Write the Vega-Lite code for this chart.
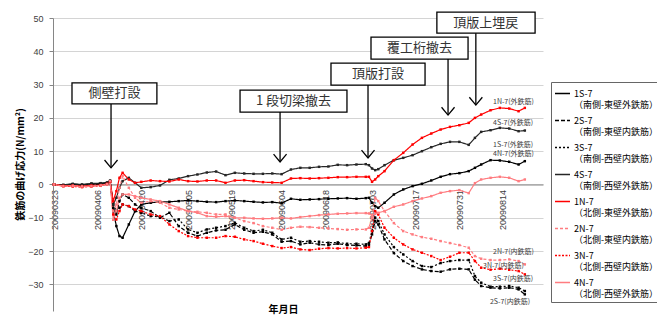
{
"$schema":"https://vega.github.io/schema/vega-lite/v6.json",
"width":490,"height":293,
"autosize":"none",
"padding":{"left":53,"top":18,"right":114,"bottom":13},
"background":"white",
"config":{"view":{"stroke":null}},
"resolve":{"axis":{"x":"independent","y":"independent"}},
"datasets":{
"series":[
{"t":"2009-03-23","s":"1S-7","v":0},{"t":"2009-03-26","s":"1S-7","v":-0.2},{"t":"2009-03-29","s":"1S-7","v":0.1},{"t":"2009-04-01","s":"1S-7","v":-0.1},{"t":"2009-04-04","s":"1S-7","v":0.2},{"t":"2009-04-07","s":"1S-7","v":0.3},{"t":"2009-04-09","s":"1S-7","v":0.5},{"t":"2009-04-10","s":"1S-7","v":1.0},{"t":"2009-04-11","s":"1S-7","v":-8},{"t":"2009-04-12","s":"1S-7","v":-12.5},{"t":"2009-04-13","s":"1S-7","v":-15.5},{"t":"2009-04-14","s":"1S-7","v":-16},{"t":"2009-04-16","s":"1S-7","v":-12},{"t":"2009-04-18","s":"1S-7","v":-8},{"t":"2009-04-20","s":"1S-7","v":-6},{"t":"2009-04-23","s":"1S-7","v":-5.5},{"t":"2009-04-26","s":"1S-7","v":-5.2},{"t":"2009-04-29","s":"1S-7","v":-5.2},{"t":"2009-05-02","s":"1S-7","v":-5},{"t":"2009-05-05","s":"1S-7","v":-4.8},{"t":"2009-05-08","s":"1S-7","v":-5},{"t":"2009-05-11","s":"1S-7","v":-5.2},{"t":"2009-05-14","s":"1S-7","v":-5.3},{"t":"2009-05-17","s":"1S-7","v":-5},{"t":"2009-05-20","s":"1S-7","v":-4.8},{"t":"2009-05-23","s":"1S-7","v":-5},{"t":"2009-05-26","s":"1S-7","v":-5.2},{"t":"2009-05-29","s":"1S-7","v":-5.4},{"t":"2009-06-01","s":"1S-7","v":-5.3},{"t":"2009-06-04","s":"1S-7","v":-5.6},{"t":"2009-06-07","s":"1S-7","v":-4.3},{"t":"2009-06-10","s":"1S-7","v":-4.6},{"t":"2009-06-13","s":"1S-7","v":-4.5},{"t":"2009-06-16","s":"1S-7","v":-4.4},{"t":"2009-06-19","s":"1S-7","v":-4.3},{"t":"2009-06-22","s":"1S-7","v":-4.2},{"t":"2009-06-25","s":"1S-7","v":-4.1},{"t":"2009-06-28","s":"1S-7","v":-4.3},{"t":"2009-07-01","s":"1S-7","v":-4.1},{"t":"2009-07-02","s":"1S-7","v":-4},{"t":"2009-07-03","s":"1S-7","v":-5.5},{"t":"2009-07-04","s":"1S-7","v":-6.5},{"t":"2009-07-05","s":"1S-7","v":-7},{"t":"2009-07-07","s":"1S-7","v":-5.5},{"t":"2009-07-10","s":"1S-7","v":-3},{"t":"2009-07-13","s":"1S-7","v":-1.5},{"t":"2009-07-16","s":"1S-7","v":-0.5},{"t":"2009-07-19","s":"1S-7","v":0.2},{"t":"2009-07-22","s":"1S-7","v":1.2},{"t":"2009-07-25","s":"1S-7","v":2.3},{"t":"2009-07-28","s":"1S-7","v":3.1},{"t":"2009-07-31","s":"1S-7","v":3.4},{"t":"2009-08-03","s":"1S-7","v":4},{"t":"2009-08-05","s":"1S-7","v":5},{"t":"2009-08-07","s":"1S-7","v":6},{"t":"2009-08-10","s":"1S-7","v":7.3},{"t":"2009-08-13","s":"1S-7","v":7.2},{"t":"2009-08-16","s":"1S-7","v":6.8},{"t":"2009-08-19","s":"1S-7","v":6},{"t":"2009-08-21","s":"1S-7","v":7},
{"t":"2009-03-23","s":"2S-7","v":0},{"t":"2009-03-26","s":"2S-7","v":-0.3},{"t":"2009-03-29","s":"2S-7","v":-0.1},{"t":"2009-04-01","s":"2S-7","v":-0.2},{"t":"2009-04-04","s":"2S-7","v":0},{"t":"2009-04-07","s":"2S-7","v":0.1},{"t":"2009-04-09","s":"2S-7","v":0.3},{"t":"2009-04-10","s":"2S-7","v":0.8},{"t":"2009-04-11","s":"2S-7","v":-7},{"t":"2009-04-12","s":"2S-7","v":-9},{"t":"2009-04-13","s":"2S-7","v":-5},{"t":"2009-04-14","s":"2S-7","v":-3},{"t":"2009-04-16","s":"2S-7","v":-4},{"t":"2009-04-18","s":"2S-7","v":-6},{"t":"2009-04-20","s":"2S-7","v":-7},{"t":"2009-04-23","s":"2S-7","v":-8},{"t":"2009-04-26","s":"2S-7","v":-10},{"t":"2009-04-29","s":"2S-7","v":-8.5},{"t":"2009-05-02","s":"2S-7","v":-12.5},{"t":"2009-05-05","s":"2S-7","v":-14.5},{"t":"2009-05-08","s":"2S-7","v":-15.5},{"t":"2009-05-11","s":"2S-7","v":-14.5},{"t":"2009-05-14","s":"2S-7","v":-13.8},{"t":"2009-05-17","s":"2S-7","v":-13.6},{"t":"2009-05-20","s":"2S-7","v":-12},{"t":"2009-05-23","s":"2S-7","v":-13.6},{"t":"2009-05-26","s":"2S-7","v":-14.5},{"t":"2009-05-29","s":"2S-7","v":-14.2},{"t":"2009-06-01","s":"2S-7","v":-15},{"t":"2009-06-04","s":"2S-7","v":-17.2},{"t":"2009-06-07","s":"2S-7","v":-17},{"t":"2009-06-10","s":"2S-7","v":-18},{"t":"2009-06-13","s":"2S-7","v":-17.5},{"t":"2009-06-16","s":"2S-7","v":-18},{"t":"2009-06-19","s":"2S-7","v":-18.2},{"t":"2009-06-22","s":"2S-7","v":-17.8},{"t":"2009-06-25","s":"2S-7","v":-18.2},{"t":"2009-06-28","s":"2S-7","v":-18.3},{"t":"2009-07-01","s":"2S-7","v":-18.5},{"t":"2009-07-02","s":"2S-7","v":-18.2},{"t":"2009-07-03","s":"2S-7","v":-15},{"t":"2009-07-04","s":"2S-7","v":-11},{"t":"2009-07-05","s":"2S-7","v":-12},{"t":"2009-07-07","s":"2S-7","v":-16.5},{"t":"2009-07-10","s":"2S-7","v":-20.6},{"t":"2009-07-13","s":"2S-7","v":-23},{"t":"2009-07-16","s":"2S-7","v":-24.5},{"t":"2009-07-19","s":"2S-7","v":-25.5},{"t":"2009-07-22","s":"2S-7","v":-26},{"t":"2009-07-25","s":"2S-7","v":-26.2},{"t":"2009-07-28","s":"2S-7","v":-25.5},{"t":"2009-07-31","s":"2S-7","v":-25.3},{"t":"2009-08-03","s":"2S-7","v":-25.5},{"t":"2009-08-05","s":"2S-7","v":-28.6},{"t":"2009-08-07","s":"2S-7","v":-30.5},{"t":"2009-08-10","s":"2S-7","v":-31},{"t":"2009-08-13","s":"2S-7","v":-31.2},{"t":"2009-08-16","s":"2S-7","v":-31},{"t":"2009-08-19","s":"2S-7","v":-31.5},{"t":"2009-08-21","s":"2S-7","v":-33},
{"t":"2009-03-23","s":"3S-7","v":0},{"t":"2009-03-26","s":"3S-7","v":-0.2},{"t":"2009-03-29","s":"3S-7","v":0},{"t":"2009-04-01","s":"3S-7","v":-0.3},{"t":"2009-04-04","s":"3S-7","v":0.1},{"t":"2009-04-07","s":"3S-7","v":0.2},{"t":"2009-04-09","s":"3S-7","v":0.4},{"t":"2009-04-10","s":"3S-7","v":1.0},{"t":"2009-04-11","s":"3S-7","v":-6},{"t":"2009-04-12","s":"3S-7","v":-8},{"t":"2009-04-13","s":"3S-7","v":-7},{"t":"2009-04-14","s":"3S-7","v":-6},{"t":"2009-04-16","s":"3S-7","v":-6.5},{"t":"2009-04-18","s":"3S-7","v":-8},{"t":"2009-04-20","s":"3S-7","v":-8.5},{"t":"2009-04-23","s":"3S-7","v":-9.5},{"t":"2009-04-26","s":"3S-7","v":-9.7},{"t":"2009-04-29","s":"3S-7","v":-11},{"t":"2009-05-02","s":"3S-7","v":-10.5},{"t":"2009-05-05","s":"3S-7","v":-13.5},{"t":"2009-05-08","s":"3S-7","v":-14.5},{"t":"2009-05-11","s":"3S-7","v":-13.5},{"t":"2009-05-14","s":"3S-7","v":-13},{"t":"2009-05-17","s":"3S-7","v":-12.5},{"t":"2009-05-20","s":"3S-7","v":-11.5},{"t":"2009-05-23","s":"3S-7","v":-13},{"t":"2009-05-26","s":"3S-7","v":-14},{"t":"2009-05-29","s":"3S-7","v":-13.6},{"t":"2009-06-01","s":"3S-7","v":-14.5},{"t":"2009-06-04","s":"3S-7","v":-16.5},{"t":"2009-06-07","s":"3S-7","v":-16},{"t":"2009-06-10","s":"3S-7","v":-17.2},{"t":"2009-06-13","s":"3S-7","v":-17},{"t":"2009-06-16","s":"3S-7","v":-17.2},{"t":"2009-06-19","s":"3S-7","v":-17.5},{"t":"2009-06-22","s":"3S-7","v":-17.4},{"t":"2009-06-25","s":"3S-7","v":-17.8},{"t":"2009-06-28","s":"3S-7","v":-17.8},{"t":"2009-07-01","s":"3S-7","v":-18},{"t":"2009-07-02","s":"3S-7","v":-17.6},{"t":"2009-07-03","s":"3S-7","v":-14},{"t":"2009-07-04","s":"3S-7","v":-10},{"t":"2009-07-05","s":"3S-7","v":-11},{"t":"2009-07-07","s":"3S-7","v":-15},{"t":"2009-07-10","s":"3S-7","v":-18.8},{"t":"2009-07-13","s":"3S-7","v":-21},{"t":"2009-07-16","s":"3S-7","v":-23},{"t":"2009-07-19","s":"3S-7","v":-24.5},{"t":"2009-07-22","s":"3S-7","v":-24.8},{"t":"2009-07-25","s":"3S-7","v":-23.6},{"t":"2009-07-28","s":"3S-7","v":-23},{"t":"2009-07-31","s":"3S-7","v":-22.7},{"t":"2009-08-03","s":"3S-7","v":-22.7},{"t":"2009-08-05","s":"3S-7","v":-27.5},{"t":"2009-08-07","s":"3S-7","v":-29.5},{"t":"2009-08-10","s":"3S-7","v":-30.7},{"t":"2009-08-13","s":"3S-7","v":-30.7},{"t":"2009-08-16","s":"3S-7","v":-30.5},{"t":"2009-08-19","s":"3S-7","v":-31},{"t":"2009-08-21","s":"3S-7","v":-32},
{"t":"2009-03-23","s":"4S-7","v":0},{"t":"2009-03-26","s":"4S-7","v":-0.1},{"t":"2009-03-29","s":"4S-7","v":0.2},{"t":"2009-04-01","s":"4S-7","v":0},{"t":"2009-04-04","s":"4S-7","v":0.3},{"t":"2009-04-07","s":"4S-7","v":0.4},{"t":"2009-04-09","s":"4S-7","v":0.6},{"t":"2009-04-10","s":"4S-7","v":1.2},{"t":"2009-04-11","s":"4S-7","v":-6},{"t":"2009-04-12","s":"4S-7","v":-4},{"t":"2009-04-13","s":"4S-7","v":-1},{"t":"2009-04-14","s":"4S-7","v":1},{"t":"2009-04-16","s":"4S-7","v":2},{"t":"2009-04-18","s":"4S-7","v":0.5},{"t":"2009-04-20","s":"4S-7","v":-1},{"t":"2009-04-23","s":"4S-7","v":-0.8},{"t":"2009-04-26","s":"4S-7","v":-0.3},{"t":"2009-04-29","s":"4S-7","v":1.4},{"t":"2009-05-02","s":"4S-7","v":1.8},{"t":"2009-05-05","s":"4S-7","v":2.5},{"t":"2009-05-08","s":"4S-7","v":3},{"t":"2009-05-11","s":"4S-7","v":3.6},{"t":"2009-05-14","s":"4S-7","v":3.9},{"t":"2009-05-17","s":"4S-7","v":2.8},{"t":"2009-05-20","s":"4S-7","v":3.5},{"t":"2009-05-23","s":"4S-7","v":3.3},{"t":"2009-05-26","s":"4S-7","v":3.2},{"t":"2009-05-29","s":"4S-7","v":3.2},{"t":"2009-06-01","s":"4S-7","v":3.3},{"t":"2009-06-04","s":"4S-7","v":3.1},{"t":"2009-06-07","s":"4S-7","v":4.5},{"t":"2009-06-10","s":"4S-7","v":5},{"t":"2009-06-13","s":"4S-7","v":5},{"t":"2009-06-16","s":"4S-7","v":5.3},{"t":"2009-06-19","s":"4S-7","v":5.4},{"t":"2009-06-22","s":"4S-7","v":5.9},{"t":"2009-06-25","s":"4S-7","v":5.8},{"t":"2009-06-28","s":"4S-7","v":6},{"t":"2009-07-01","s":"4S-7","v":6.1},{"t":"2009-07-02","s":"4S-7","v":5.8},{"t":"2009-07-03","s":"4S-7","v":4.8},{"t":"2009-07-04","s":"4S-7","v":4.3},{"t":"2009-07-05","s":"4S-7","v":4.6},{"t":"2009-07-07","s":"4S-7","v":5.8},{"t":"2009-07-10","s":"4S-7","v":7.3},{"t":"2009-07-13","s":"4S-7","v":8},{"t":"2009-07-16","s":"4S-7","v":8.8},{"t":"2009-07-19","s":"4S-7","v":10},{"t":"2009-07-22","s":"4S-7","v":11.2},{"t":"2009-07-25","s":"4S-7","v":12.2},{"t":"2009-07-28","s":"4S-7","v":12.8},{"t":"2009-07-31","s":"4S-7","v":12.8},{"t":"2009-08-03","s":"4S-7","v":11.9},{"t":"2009-08-05","s":"4S-7","v":14},{"t":"2009-08-07","s":"4S-7","v":15.8},{"t":"2009-08-10","s":"4S-7","v":16.3},{"t":"2009-08-13","s":"4S-7","v":17},{"t":"2009-08-16","s":"4S-7","v":16.8},{"t":"2009-08-19","s":"4S-7","v":16},{"t":"2009-08-21","s":"4S-7","v":16.2},
{"t":"2009-03-23","s":"1N-7","v":0},{"t":"2009-03-26","s":"1N-7","v":-0.4},{"t":"2009-03-29","s":"1N-7","v":-0.3},{"t":"2009-04-01","s":"1N-7","v":-0.5},{"t":"2009-04-04","s":"1N-7","v":-0.3},{"t":"2009-04-07","s":"1N-7","v":-0.2},{"t":"2009-04-09","s":"1N-7","v":0.2},{"t":"2009-04-10","s":"1N-7","v":0.9},{"t":"2009-04-11","s":"1N-7","v":-5},{"t":"2009-04-12","s":"1N-7","v":-2},{"t":"2009-04-13","s":"1N-7","v":2},{"t":"2009-04-14","s":"1N-7","v":3.5},{"t":"2009-04-16","s":"1N-7","v":1.5},{"t":"2009-04-18","s":"1N-7","v":0.5},{"t":"2009-04-20","s":"1N-7","v":0.8},{"t":"2009-04-23","s":"1N-7","v":1.2},{"t":"2009-04-26","s":"1N-7","v":1},{"t":"2009-04-29","s":"1N-7","v":0.9},{"t":"2009-05-02","s":"1N-7","v":1.5},{"t":"2009-05-05","s":"1N-7","v":1},{"t":"2009-05-08","s":"1N-7","v":0.9},{"t":"2009-05-11","s":"1N-7","v":1.2},{"t":"2009-05-14","s":"1N-7","v":1.2},{"t":"2009-05-17","s":"1N-7","v":0.5},{"t":"2009-05-20","s":"1N-7","v":1.2},{"t":"2009-05-23","s":"1N-7","v":1.3},{"t":"2009-05-26","s":"1N-7","v":1},{"t":"2009-05-29","s":"1N-7","v":0.7},{"t":"2009-06-01","s":"1N-7","v":0.6},{"t":"2009-06-04","s":"1N-7","v":0.5},{"t":"2009-06-07","s":"1N-7","v":1.8},{"t":"2009-06-10","s":"1N-7","v":1.9},{"t":"2009-06-13","s":"1N-7","v":1.8},{"t":"2009-06-16","s":"1N-7","v":1.9},{"t":"2009-06-19","s":"1N-7","v":2},{"t":"2009-06-22","s":"1N-7","v":2.2},{"t":"2009-06-25","s":"1N-7","v":2.2},{"t":"2009-06-28","s":"1N-7","v":2.3},{"t":"2009-07-01","s":"1N-7","v":2.3},{"t":"2009-07-02","s":"1N-7","v":2.3},{"t":"2009-07-03","s":"1N-7","v":0.8},{"t":"2009-07-04","s":"1N-7","v":1.5},{"t":"2009-07-05","s":"1N-7","v":2.5},{"t":"2009-07-07","s":"1N-7","v":4},{"t":"2009-07-10","s":"1N-7","v":7.3},{"t":"2009-07-13","s":"1N-7","v":9.5},{"t":"2009-07-16","s":"1N-7","v":12},{"t":"2009-07-19","s":"1N-7","v":14},{"t":"2009-07-22","s":"1N-7","v":15.3},{"t":"2009-07-25","s":"1N-7","v":16.5},{"t":"2009-07-28","s":"1N-7","v":17.3},{"t":"2009-07-31","s":"1N-7","v":17.8},{"t":"2009-08-03","s":"1N-7","v":18.5},{"t":"2009-08-05","s":"1N-7","v":20},{"t":"2009-08-07","s":"1N-7","v":21},{"t":"2009-08-10","s":"1N-7","v":22.3},{"t":"2009-08-13","s":"1N-7","v":23},{"t":"2009-08-16","s":"1N-7","v":22.8},{"t":"2009-08-19","s":"1N-7","v":22},{"t":"2009-08-21","s":"1N-7","v":23},
{"t":"2009-03-23","s":"2N-7","v":0},{"t":"2009-03-26","s":"2N-7","v":-0.6},{"t":"2009-03-29","s":"2N-7","v":-0.5},{"t":"2009-04-01","s":"2N-7","v":-0.7},{"t":"2009-04-04","s":"2N-7","v":-0.5},{"t":"2009-04-07","s":"2N-7","v":-0.3},{"t":"2009-04-09","s":"2N-7","v":0},{"t":"2009-04-10","s":"2N-7","v":0.7},{"t":"2009-04-11","s":"2N-7","v":-8},{"t":"2009-04-12","s":"2N-7","v":-6},{"t":"2009-04-13","s":"2N-7","v":-1},{"t":"2009-04-14","s":"2N-7","v":2.5},{"t":"2009-04-16","s":"2N-7","v":-1},{"t":"2009-04-18","s":"2N-7","v":-4},{"t":"2009-04-20","s":"2N-7","v":-5.5},{"t":"2009-04-23","s":"2N-7","v":-5},{"t":"2009-04-26","s":"2N-7","v":-5.5},{"t":"2009-04-29","s":"2N-7","v":-7},{"t":"2009-05-02","s":"2N-7","v":-7.5},{"t":"2009-05-05","s":"2N-7","v":-8},{"t":"2009-05-08","s":"2N-7","v":-8.2},{"t":"2009-05-11","s":"2N-7","v":-8.5},{"t":"2009-05-14","s":"2N-7","v":-9},{"t":"2009-05-17","s":"2N-7","v":-9},{"t":"2009-05-20","s":"2N-7","v":-10},{"t":"2009-05-23","s":"2N-7","v":-11},{"t":"2009-05-26","s":"2N-7","v":-11.6},{"t":"2009-05-29","s":"2N-7","v":-12.5},{"t":"2009-06-01","s":"2N-7","v":-13},{"t":"2009-06-04","s":"2N-7","v":-13.6},{"t":"2009-06-07","s":"2N-7","v":-13},{"t":"2009-06-10","s":"2N-7","v":-12.7},{"t":"2009-06-13","s":"2N-7","v":-12.8},{"t":"2009-06-16","s":"2N-7","v":-13},{"t":"2009-06-19","s":"2N-7","v":-13.2},{"t":"2009-06-22","s":"2N-7","v":-13.4},{"t":"2009-06-25","s":"2N-7","v":-13.6},{"t":"2009-06-28","s":"2N-7","v":-13.5},{"t":"2009-07-01","s":"2N-7","v":-13.5},{"t":"2009-07-02","s":"2N-7","v":-13},{"t":"2009-07-03","s":"2N-7","v":-10},{"t":"2009-07-04","s":"2N-7","v":-4},{"t":"2009-07-05","s":"2N-7","v":-5},{"t":"2009-07-07","s":"2N-7","v":-8},{"t":"2009-07-10","s":"2N-7","v":-11.6},{"t":"2009-07-13","s":"2N-7","v":-14},{"t":"2009-07-16","s":"2N-7","v":-15},{"t":"2009-07-19","s":"2N-7","v":-15.8},{"t":"2009-07-22","s":"2N-7","v":-16.3},{"t":"2009-07-25","s":"2N-7","v":-17},{"t":"2009-07-28","s":"2N-7","v":-17.6},{"t":"2009-07-31","s":"2N-7","v":-18.2},{"t":"2009-08-03","s":"2N-7","v":-19},{"t":"2009-08-05","s":"2N-7","v":-21.5},{"t":"2009-08-07","s":"2N-7","v":-22.3},{"t":"2009-08-10","s":"2N-7","v":-22.7},{"t":"2009-08-13","s":"2N-7","v":-22.7},{"t":"2009-08-16","s":"2N-7","v":-22.5},{"t":"2009-08-19","s":"2N-7","v":-23},{"t":"2009-08-21","s":"2N-7","v":-24},
{"t":"2009-03-23","s":"3N-7","v":0},{"t":"2009-03-26","s":"3N-7","v":-0.5},{"t":"2009-03-29","s":"3N-7","v":-0.6},{"t":"2009-04-01","s":"3N-7","v":-0.8},{"t":"2009-04-04","s":"3N-7","v":-0.6},{"t":"2009-04-07","s":"3N-7","v":-0.4},{"t":"2009-04-09","s":"3N-7","v":0.1},{"t":"2009-04-10","s":"3N-7","v":0.8},{"t":"2009-04-11","s":"3N-7","v":-9},{"t":"2009-04-12","s":"3N-7","v":-10.5},{"t":"2009-04-13","s":"3N-7","v":-8},{"t":"2009-04-14","s":"3N-7","v":-6},{"t":"2009-04-16","s":"3N-7","v":-6.5},{"t":"2009-04-18","s":"3N-7","v":-7.5},{"t":"2009-04-20","s":"3N-7","v":-8},{"t":"2009-04-23","s":"3N-7","v":-9},{"t":"2009-04-26","s":"3N-7","v":-9.5},{"t":"2009-04-29","s":"3N-7","v":-12},{"t":"2009-05-02","s":"3N-7","v":-14},{"t":"2009-05-05","s":"3N-7","v":-15.5},{"t":"2009-05-08","s":"3N-7","v":-16},{"t":"2009-05-11","s":"3N-7","v":-16},{"t":"2009-05-14","s":"3N-7","v":-16},{"t":"2009-05-17","s":"3N-7","v":-15.5},{"t":"2009-05-20","s":"3N-7","v":-15.7},{"t":"2009-05-23","s":"3N-7","v":-16.5},{"t":"2009-05-26","s":"3N-7","v":-17},{"t":"2009-05-29","s":"3N-7","v":-17.8},{"t":"2009-06-01","s":"3N-7","v":-18.5},{"t":"2009-06-04","s":"3N-7","v":-19.1},{"t":"2009-06-07","s":"3N-7","v":-18.8},{"t":"2009-06-10","s":"3N-7","v":-19.5},{"t":"2009-06-13","s":"3N-7","v":-19.7},{"t":"2009-06-16","s":"3N-7","v":-19.3},{"t":"2009-06-19","s":"3N-7","v":-19.1},{"t":"2009-06-22","s":"3N-7","v":-19.2},{"t":"2009-06-25","s":"3N-7","v":-19.1},{"t":"2009-06-28","s":"3N-7","v":-19.2},{"t":"2009-07-01","s":"3N-7","v":-19},{"t":"2009-07-02","s":"3N-7","v":-18.8},{"t":"2009-07-03","s":"3N-7","v":-14},{"t":"2009-07-04","s":"3N-7","v":-8},{"t":"2009-07-05","s":"3N-7","v":-9},{"t":"2009-07-07","s":"3N-7","v":-13},{"t":"2009-07-10","s":"3N-7","v":-16},{"t":"2009-07-13","s":"3N-7","v":-18},{"t":"2009-07-16","s":"3N-7","v":-19.5},{"t":"2009-07-19","s":"3N-7","v":-20.5},{"t":"2009-07-22","s":"3N-7","v":-21.5},{"t":"2009-07-25","s":"3N-7","v":-22.7},{"t":"2009-07-28","s":"3N-7","v":-21.7},{"t":"2009-07-31","s":"3N-7","v":-20.5},{"t":"2009-08-03","s":"3N-7","v":-20.5},{"t":"2009-08-05","s":"3N-7","v":-23},{"t":"2009-08-07","s":"3N-7","v":-25},{"t":"2009-08-10","s":"3N-7","v":-25.6},{"t":"2009-08-13","s":"3N-7","v":-25.3},{"t":"2009-08-16","s":"3N-7","v":-25.6},{"t":"2009-08-19","s":"3N-7","v":-26},{"t":"2009-08-21","s":"3N-7","v":-27},
{"t":"2009-03-23","s":"4N-7","v":0},{"t":"2009-03-26","s":"4N-7","v":-0.5},{"t":"2009-03-29","s":"4N-7","v":-0.4},{"t":"2009-04-01","s":"4N-7","v":-0.6},{"t":"2009-04-04","s":"4N-7","v":-0.5},{"t":"2009-04-07","s":"4N-7","v":-0.3},{"t":"2009-04-09","s":"4N-7","v":0.1},{"t":"2009-04-10","s":"4N-7","v":1.0},{"t":"2009-04-11","s":"4N-7","v":-10.6},{"t":"2009-04-12","s":"4N-7","v":-8},{"t":"2009-04-13","s":"4N-7","v":-4},{"t":"2009-04-14","s":"4N-7","v":-3},{"t":"2009-04-16","s":"4N-7","v":-3},{"t":"2009-04-18","s":"4N-7","v":-3.5},{"t":"2009-04-20","s":"4N-7","v":-4},{"t":"2009-04-23","s":"4N-7","v":-4.5},{"t":"2009-04-26","s":"4N-7","v":-5},{"t":"2009-04-29","s":"4N-7","v":-6},{"t":"2009-05-02","s":"4N-7","v":-7},{"t":"2009-05-05","s":"4N-7","v":-8},{"t":"2009-05-08","s":"4N-7","v":-8.5},{"t":"2009-05-11","s":"4N-7","v":-9.5},{"t":"2009-05-14","s":"4N-7","v":-9.7},{"t":"2009-05-17","s":"4N-7","v":-9.5},{"t":"2009-05-20","s":"4N-7","v":-10},{"t":"2009-05-23","s":"4N-7","v":-10},{"t":"2009-05-26","s":"4N-7","v":-10.2},{"t":"2009-05-29","s":"4N-7","v":-10.3},{"t":"2009-06-01","s":"4N-7","v":-10.2},{"t":"2009-06-04","s":"4N-7","v":-10},{"t":"2009-06-07","s":"4N-7","v":-10.2},{"t":"2009-06-10","s":"4N-7","v":-9.8},{"t":"2009-06-13","s":"4N-7","v":-9.5},{"t":"2009-06-16","s":"4N-7","v":-9.2},{"t":"2009-06-19","s":"4N-7","v":-9},{"t":"2009-06-22","s":"4N-7","v":-8.8},{"t":"2009-06-25","s":"4N-7","v":-8.7},{"t":"2009-06-28","s":"4N-7","v":-8.6},{"t":"2009-07-01","s":"4N-7","v":-8.6},{"t":"2009-07-02","s":"4N-7","v":-8.7},{"t":"2009-07-03","s":"4N-7","v":-9.2},{"t":"2009-07-04","s":"4N-7","v":-8.8},{"t":"2009-07-05","s":"4N-7","v":-8.5},{"t":"2009-07-07","s":"4N-7","v":-8},{"t":"2009-07-10","s":"4N-7","v":-6.7},{"t":"2009-07-13","s":"4N-7","v":-6},{"t":"2009-07-16","s":"4N-7","v":-5},{"t":"2009-07-19","s":"4N-7","v":-4.2},{"t":"2009-07-22","s":"4N-7","v":-3.5},{"t":"2009-07-25","s":"4N-7","v":-2.5},{"t":"2009-07-28","s":"4N-7","v":-2},{"t":"2009-07-31","s":"4N-7","v":-1.7},{"t":"2009-08-03","s":"4N-7","v":-2.6},{"t":"2009-08-05","s":"4N-7","v":0.4},{"t":"2009-08-07","s":"4N-7","v":1.5},{"t":"2009-08-10","s":"4N-7","v":2},{"t":"2009-08-13","s":"4N-7","v":2.3},{"t":"2009-08-16","s":"4N-7","v":2},{"t":"2009-08-19","s":"4N-7","v":1},{"t":"2009-08-21","s":"4N-7","v":1.5}
],
"ann":[
{"label":"側壁打設","x1":"2009-03-28T18:30:00Z","x2":"2009-04-25T00:00:00Z","xm":"2009-04-11T10:00:00Z","y1":30.5,"y2":24.2,"ym":27.35,"xa":"2009-04-10T07:00:00Z","tip":5.0},
{"label":"1 段切梁撤去","x1":"2009-05-21T16:00:00Z","x2":"2009-06-24T23:00:00Z","xm":"2009-06-07T19:00:00Z","y1":28.35,"y2":21.75,"ym":25.05,"xa":"2009-06-03T12:00:00Z","tip":6.75},
{"label":"頂版打設","x1":"2009-06-19T20:00:00Z","x2":"2009-07-20T00:00:00Z","xm":"2009-07-04T22:00:00Z","y1":36.45,"y2":29.85,"ym":33.15,"xa":"2009-07-01T17:00:00Z","tip":7.95},
{"label":"覆工桁撤去","x1":"2009-07-02T16:00:00Z","x2":"2009-08-02T19:00:00Z","xm":"2009-07-18T05:00:00Z","y1":44.25,"y2":37.65,"ym":40.95,"xa":"2009-07-27T09:00:00Z","tip":20.85},
{"label":"頂版上埋戻","x1":"2009-07-23T19:00:00Z","x2":"2009-08-24T07:00:00Z","xm":"2009-08-08T12:00:00Z","y1":51.75,"y2":45.45,"ym":48.6,"xa":"2009-08-05T07:00:00Z","tip":23.85}
],
"endlab":[
{"t":"2009-08-10T19:00:00Z","v":24.8,"text":"1N-7(外鉄筋)"},
{"t":"2009-08-10T19:00:00Z","v":18.4,"text":"4S-7(外鉄筋)"},
{"t":"2009-08-10T19:00:00Z","v":11.9,"text":"1S-7(外鉄筋)"},
{"t":"2009-08-10T19:00:00Z","v":9.2,"text":"4N-7(外鉄筋)"},
{"t":"2009-08-10T19:00:00Z","v":-20.3,"text":"2N-7(内鉄筋)"},
{"t":"2009-08-07T14:00:00Z","v":-24.5,"text":"3N-7(内鉄筋)"},
{"t":"2009-08-10T19:00:00Z","v":-28.4,"text":"3S-7(内鉄筋)"},
{"t":"2009-08-09T19:00:00Z","v":-35.3,"text":"2S-7(内鉄筋)"}
]
},
"layer":[
{"data":{"name":"series"},
 "mark":{"type":"line","strokeWidth":1.2,"point":{"shape":"square","size":6,"filled":true}},
 "encoding":{
  "x":{"field":"t","type":"temporal",
   "scale":{"type":"utc","domain":[{"year":2009,"month":3,"date":22,"hours":16,"minutes":18,"utc":true},{"year":2009,"month":8,"date":26,"hours":19,"minutes":54,"utc":true}]},
   "axis":{"title":"年月日","titleFont":"Noto Sans CJK JP","titleFontWeight":"bold","titleFontSize":10,"titleColor":"#000","titleX":230,"titleY":125,"titleBaseline":"middle","titleAlign":"center","orient":"bottom","offset":-126.5,
    "values":[{"year":2009,"month":3,"date":23,"utc":true},{"year":2009,"month":4,"date":6,"utc":true},{"year":2009,"month":4,"date":20,"utc":true},{"year":2009,"month":5,"date":5,"utc":true},{"year":2009,"month":5,"date":19,"utc":true},{"year":2009,"month":6,"date":4,"utc":true},{"year":2009,"month":6,"date":18,"utc":true},{"year":2009,"month":7,"date":3,"utc":true},{"year":2009,"month":7,"date":17,"utc":true},{"year":2009,"month":7,"date":31,"utc":true},{"year":2009,"month":8,"date":14,"utc":true}],
    "format":"%Y%m%d","labelAngle":-90,"labelAlign":"right","labelBaseline":"middle","labelFont":"Liberation Sans","labelFontSize":9,"labelColor":"#404040","labelPadding":5,"ticks":false,"domainColor":"#868686","grid":false,"labelOverlap":false,"labelFlush":false,"labelBound":false}},
  "y":{"field":"v","type":"quantitative",
   "scale":{"domain":[-38,50],"nice":false,"zero":false},
   "axis":{"title":"鉄筋の曲げ応力(N/mm²)","titleFont":"Noto Sans CJK JP","titleFontWeight":"bold","titleFontSize":10,"titleColor":"#000","titleX":-33,"titleY":146,"titleAlign":"center","titleBaseline":"middle","values":[-30,-20,-10,0,10,20,30,40,50],"labelOverlap":false,"labelFlush":false,"grid":true,"gridColor":"#d4d4d4","domainColor":"#868686","tickColor":"#868686","tickSize":4,"labelFont":"Liberation Sans","labelFontSize":9,"labelColor":"#404040","labelPadding":6}},
  "color":{"field":"s","type":"nominal",
   "scale":{"domain":["1S-7","2S-7","3S-7","4S-7","1N-7","2N-7","3N-7","4N-7"],"range":["#000000","#000000","#000000","#262626","#ff0000","#ff7c80","#ff0000","#ff7c80"]},
   "legend":{"orient":"none","legendX":498,"legendY":64,"direction":"vertical","title":null,"symbolType":"stroke","symbolSize":225,"symbolStrokeWidth":1.5,"labelFont":"Noto Sans CJK JP","labelFontSize":9,"labelColor":"#000","labelLimit":200,"labelOffset":3,"padding":3,"rowPadding":2,"strokeColor":"#666666","fillColor":"white","labelBaseline":"alphabetic",
    "encode":{"labels":{"update":{"dy":{"value":3},"lineHeight":{"value":11}}}},
    "labelExpr":"{'1S-7':['1S-7','（南側-東壁外鉄筋）'],'2S-7':['2S-7','（南側-東壁内鉄筋）'],'3S-7':['3S-7','（南側-西壁内鉄筋）'],'4S-7':['4S-7','（南側-西壁外鉄筋）'],'1N-7':['1N-7','（北側-東壁外鉄筋）'],'2N-7':['2N-7','（北側-東壁内鉄筋）'],'3N-7':['3N-7','（北側-西壁内鉄筋）'],'4N-7':['4N-7','（北側-西壁外鉄筋）']}[datum.label]"}},
  "strokeDash":{"field":"s","type":"nominal",
   "scale":{"domain":["1S-7","2S-7","3S-7","4S-7","1N-7","2N-7","3N-7","4N-7"],"range":[[1,0],[4,2],[2,2],[1,0],[1,0],[3,2],[2,1.5],[1,0]]}}
 }},
{"data":{"name":"ann"},
 "mark":{"type":"rect","fill":"white","stroke":"#000","strokeWidth":1.3},
 "encoding":{"x":{"field":"x1","type":"temporal","axis":null},"x2":{"field":"x2"},"y":{"field":"y1","type":"quantitative","axis":null},"y2":{"field":"y2"}}},
{"data":{"name":"ann"},
 "mark":{"type":"text","font":"Noto Sans CJK JP","fontSize":13,"color":"#333333","align":"center","baseline":"middle"},
 "encoding":{"x":{"field":"xm","type":"temporal","axis":null},"y":{"field":"ym","type":"quantitative","axis":null},"text":{"field":"label"}}},
{"data":{"name":"ann"},
 "mark":{"type":"rule","color":"#000","strokeWidth":1.3},
 "encoding":{"x":{"field":"xa","type":"temporal","axis":null},"y":{"field":"y2","type":"quantitative","axis":null},"y2":{"field":"tip"}}},
{"data":{"name":"ann"},
 "mark":{"type":"point","shape":"M-1,-1.2L0,0L1,-1.2","size":169,"filled":false,"stroke":"#000","strokeWidth":1.3,"opacity":1},
 "encoding":{"x":{"field":"xa","type":"temporal","axis":null},"y":{"field":"tip","type":"quantitative","axis":null}}},
{"data":{"name":"endlab"},
 "mark":{"type":"text","font":"Noto Sans CJK JP","fontSize":7,"color":"#404040","align":"left","baseline":"middle"},
 "encoding":{"x":{"field":"t","type":"temporal","axis":null},"y":{"field":"v","type":"quantitative","axis":null},"text":{"field":"text"}}}
]
}
